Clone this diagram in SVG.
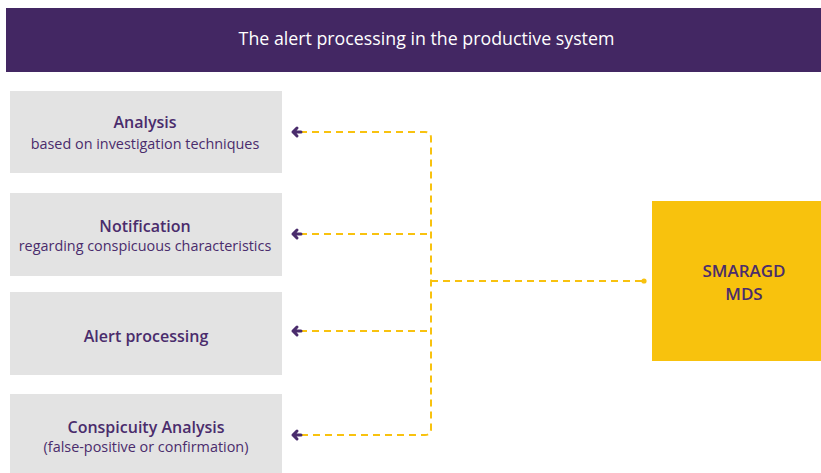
<svg xmlns="http://www.w3.org/2000/svg" width="821" height="473" viewBox="0 0 821 473">
<style>
.box{fill:#e3e3e3}
.t{font-family:"Open Sans","Liberation Sans",sans-serif;fill:#4a2c6c;text-anchor:middle}
.h{font-size:16px;font-weight:600}
.s{font-size:14.4px}
.dash{fill:none;stroke:#f8c20f;stroke-width:2;stroke-dasharray:7 5}
.ah{fill:none;stroke:#4a2c6c;stroke-width:3;stroke-linecap:round;stroke-linejoin:round}
</style>
<rect width="821" height="473" fill="#ffffff"/>
<g id="header">
<rect x="6" y="8" width="815" height="64" fill="#432763"/>
<text x="426.5" y="45" font-family="Open Sans, Liberation Sans, sans-serif" font-size="17.8" fill="#ffffff" text-anchor="middle">The alert processing in the productive system</text>
</g>
<g id="analysis">
<rect class="box" x="10" y="91" width="272" height="82"/>
<text class="t h" x="145" y="128">Analysis</text>
<text class="t s" x="145" y="149">based on investigation techniques</text>
</g>
<g id="notification">
<rect class="box" x="10" y="193" width="272" height="83"/>
<text class="t h" x="145" y="232">Notification</text>
<text class="t s" x="145" y="251">regarding conspicuous characteristics</text>
</g>
<g id="alert-processing">
<rect class="box" x="10" y="292" width="272" height="83"/>
<text class="t h" x="146" y="342">Alert processing</text>
</g>
<g id="conspicuity">
<rect class="box" x="10" y="394" width="272" height="79"/>
<text class="t h" x="146" y="433">Conspicuity Analysis</text>
<text class="t s" x="146" y="452">(false-positive or confirmation)</text>
</g>
<g id="smaragd">
<rect x="652" y="201" width="169" height="160" fill="#f8c20d"/>
<text class="t" x="744" y="277" font-size="17" font-weight="600">SMARAGD</text>
<text class="t" x="744" y="300" font-size="17" font-weight="600">MDS</text>
</g>
<g id="connectors">
<path class="dash" d="M300,132 H425 Q431,132 431,138 V429 Q431,435 425,435 H300"/>
<path class="dash" d="M300,234 H431"/>
<path class="dash" d="M300,331 H431"/>
<path class="dash" d="M431,281 H644"/>
<circle cx="644" cy="281" r="2.6" fill="#f8c20f"/>
<path class="ah" d="M297,128 L293,132 L297,136 M293,132 H301"/>
<path class="ah" d="M297,230 L293,234 L297,238 M293,234 H301"/>
<path class="ah" d="M297,327 L293,331 L297,335 M293,331 H301"/>
<path class="ah" d="M297,431 L293,435 L297,439 M293,435 H301"/>
</g>
</svg>
